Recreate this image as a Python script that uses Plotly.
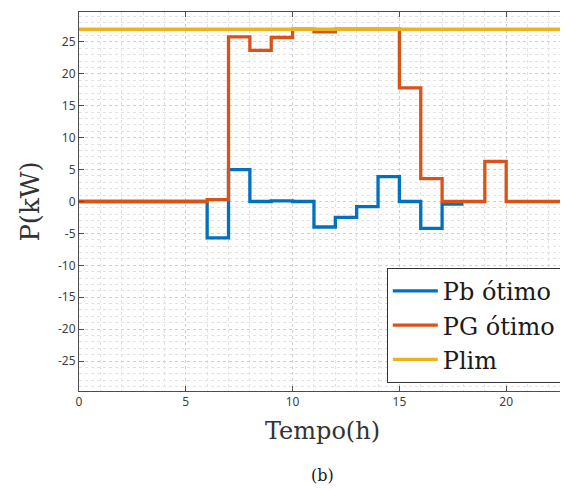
import plotly.graph_objects as go

hours_pb = list(range(0, 19))
pb_values = [0, 0, 0, 0, 0, 0, -5.7, 5.0, 0, 0.1, 0, -4.0, -2.5, -0.8, 3.9, 0, -4.2, -0.4]
hours_pg = list(range(0, 24))
pg_values = [0, 0, 0, 0, 0, 0, 0.3, 25.8, 23.7, 25.7, 27.0, 26.6, 27.0, 27.0, 27.0,
             17.8, 3.6, 0, 0, 6.3, 0, 0, 0]
plim_x = [0, 23]
plim_values = [27, 27]

x_ticks = [0, 5, 10, 15, 20]
x_labels = ["0", "5", "10", "15", "20"]
y_ticks = [-25, -20, -15, -10, -5, 0, 5, 10, 15, 20, 25]
y_labels = ["-25", "-20", "-15", "-10", "-5", "0", "5", "10", "15", "20", "25"]

fig = go.Figure()
fig.add_trace(go.Scatter(x=hours_pb, y=pb_values + [pb_values[-1]], mode="lines",
                         line=dict(color="#0072BD", width=3.3, shape="hv"), name="Pb ótimo"))
fig.add_trace(go.Scatter(x=hours_pg, y=pg_values + [pg_values[-1]], mode="lines",
                         line=dict(color="#D95319", width=3.3, shape="hv"), name="PG ótimo"))
fig.add_trace(go.Scatter(x=plim_x, y=plim_values, mode="lines",
                         line=dict(color="#EDB120", width=3.3), name="Plim"))

axis_common = dict(
    showline=True, linecolor="#4d4d4d", linewidth=1, mirror="ticks",
    ticks="inside", ticklen=5, tickcolor="#4d4d4d",
    showgrid=True, gridcolor="#cfcfcf", griddash="dot", gridwidth=1,
    zeroline=False, automargin=False,
    tickfont=dict(family="Noto Sans", size=12, color="#404040"),
)

fig.update_layout(
    width=560, height=482,
    margin=dict(l=71, r=2, t=4, b=99),
    paper_bgcolor="white", plot_bgcolor="white",
    showlegend=True,
    legend=dict(x=0.632, y=0.325, xanchor="left", yanchor="top",
                bordercolor="#333333", borderwidth=1, bgcolor="white",
                font=dict(family="DejaVu Serif", size=24, color="#1a1a1a"),
                itemwidth=45, tracegroupgap=0),
    xaxis=dict(range=[0, 22.8], tickvals=x_ticks, ticktext=x_labels,
               minor=dict(dtick=1, showgrid=True, gridcolor="#e2e2e2", griddash="dot", ticks=""),
               title=dict(text="Tempo(h)", font=dict(family="DejaVu Serif", size=24, color="#333333"),
                          standoff=12),
               **axis_common),
    yaxis=dict(range=[-29.7, 29.7], tickvals=y_ticks, ticktext=y_labels,
               minor=dict(dtick=1, showgrid=True, gridcolor="#e2e2e2", griddash="dot", ticks=""),
               title=dict(text="P(kW)", font=dict(family="DejaVu Serif", size=26, color="#333333"),
                          standoff=10),
               **axis_common),
    annotations=[dict(text="(b)", xref="paper", yref="paper", x=0.5, y=-0.222,
                      xanchor="center", yanchor="middle", showarrow=False,
                      font=dict(family="DejaVu Serif", size=16, color="#1a1a1a"))],
)

fig.write_html("out.html")
